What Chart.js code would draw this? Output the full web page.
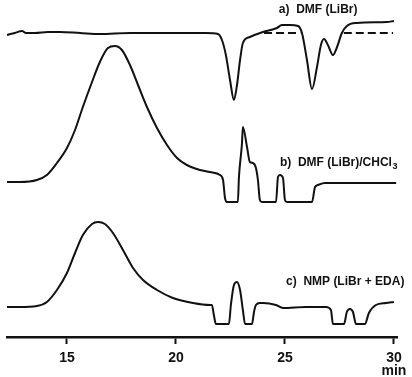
<!DOCTYPE html>
<html>
<head>
<meta charset="utf-8">
<script src="https://cdn.jsdelivr.net/npm/chart.js@4.4.1/dist/chart.umd.min.js"></script>
<style>
body{margin:0;background:#fff;}
#wrap{width:412px;height:377px;position:relative;}
</style>
</head>
<body>
<div id="wrap"><canvas id="ctx"></canvas></div>
<script>
// elution time (min) and detector response (arb. units)
const timeA = [12.25,12.61,12.94,13.12,13.53,14.13,14.68,15.60,16.51,17.89,19.72,21.38,21.93,22.11,22.29,22.48,22.66,22.80,22.94,23.07,23.39,23.99,24.63,24.86,25.23,25.60,25.78,26.01,26.24,26.47,26.65,26.79,26.97,27.20,27.39,27.61,27.84,28.30,29.68,30.00];
const signalA = [302,304,306,304,304,305,305,304,303,304,304,304,303,297,282,257,237,252,277,294,300,305,309,312,312,311,304,277,248,270,292,298,292,282,290,304,311,314,315,316];

const timeB = [12.25,12.84,13.62,14.08,14.54,15.00,15.37,15.73,16.15,16.51,16.88,17.20,17.52,17.89,18.26,18.67,19.13,19.59,20.05,20.50,21.10,21.56,22.02,22.16,22.25,22.34,22.84,22.89,23.03,23.07,23.26,23.39,23.53,23.67,23.76,23.85,23.94,24.59,24.68,24.77,24.91,25.00,25.09,26.24,26.38,26.51,26.83,30.10];
const signalB = [155,155,157,162,174,189,207,230,255,275,289,291,287,272,252,230,209,192,179,172,167,165,162,157,139,135,135,160,194,210,190,175,174,169,157,137,135,135,160,162,159,137,135,135,150,152,154,154];

const timeC = [12.25,12.84,13.62,14.08,14.54,15.00,15.37,15.73,16.15,16.42,16.74,17.11,17.57,18.03,18.49,19.13,19.86,20.78,21.56,21.65,21.74,21.83,22.43,22.52,22.66,22.80,22.94,23.07,23.17,23.49,23.58,23.67,23.85,23.99,24.59,24.91,25.96,26.88,27.11,27.20,27.71,27.84,27.98,28.12,28.26,28.67,28.85,29.17,29.63,30.00];
const signalC = [30,30,31,35,47,64,84,102,113,115,113,104,87,69,57,47,39,34,32,32,22,13,13,32,52,55,47,27,13,13,25,32,34,34,32,29,30,30,27,13,13,25,28,25,13,13,24,32,34,35];

// dashed baselines under trace a
const dashTime1 = [24.04,25.70];
const dashTime2 = [27.70,29.96];
const dashLevel = [304,304];

const tickValues = [15,20,25,30];
const traceLabels = ['a)  DMF (LiBr)','b)  DMF (LiBr)/CHCl','c)  NMP (LiBr + EDA)'];

function pts(ts, vs){
    return ts.map((t,i)=>({x:t,y:vs[i]}));
}

const ink = '#111';

function trace(ts, vs, dash){
    return {
        data: pts(ts, vs),
        borderColor: ink,
        borderWidth: 2,
        borderDash: dash || [],
        pointRadius: 0,
        fill: false,
        cubicInterpolationMode: 'monotone'
    };
}

const labelPlugin = {
    id: 'traceLabels',
    afterDatasetsDraw(chart){
        const c = chart.ctx, xs = chart.scales.x, ys = chart.scales.y;
        const spots = [[24.72,327],[24.77,174],[25.05,55]];
        c.save();
        c.fillStyle = ink;
        c.textBaseline = 'middle';
        c.font = 'bold 12px "Liberation Sans", Arial, sans-serif';
        traceLabels.forEach((txt,i)=>{
            let px = xs.getPixelForValue(spots[i][0]);
            let py = ys.getPixelForValue(spots[i][1]);
            c.fillText(txt, px, py);
            if (i === 1) {
                let w = c.measureText(txt).width;
                c.font = 'bold 9px "Liberation Sans", Arial, sans-serif';
                c.fillText('3', px + w + 0.5, py + 4);
                c.font = 'bold 12px "Liberation Sans", Arial, sans-serif';
            }
        });
        c.restore();
    }
};

new Chart(document.getElementById('ctx'), {
    type: 'line',
    data: {
        datasets: [
            trace(timeA, signalA),
            trace(dashTime1, dashLevel, [8,4]),
            trace(dashTime2, dashLevel, [8,4]),
            trace(timeB, signalB),
            trace(timeC, signalC)
        ]
    },
    options: {
        responsive: true,
        maintainAspectRatio: false,
        animation: false,
        layout: {padding: {left: 7, right: 15, top: 0, bottom: 0}},
        plugins: {legend: {display: false}, tooltip: {enabled: false}},
        scales: {
            x: {
                type: 'linear',
                min: 12.25,
                max: 30.14,
                afterBuildTicks(scale){
                    scale.ticks = tickValues.map(v=>({value:v}));
                },
                afterFit(scale){
                    scale.height = 40;
                    scale.paddingLeft = 0;
                    scale.paddingRight = 0;
                },
                border: {display: true, color: ink, width: 2.5},
                grid: {drawOnChartArea: false, drawTicks: true, tickLength: 7, tickWidth: 2, tickColor: ink},
                ticks: {
                    color: ink,
                    padding: 8,
                    maxRotation: 0,
                    font: {family: '"Liberation Sans", Arial, sans-serif', size: 14, weight: 'bold', lineHeight: 0.9},
                    callback: v => v === 30 ? ['30','min'] : String(v)
                }
            },
            y: {
                display: false,
                min: 0,
                max: 337
            }
        }
    },
    plugins: [labelPlugin]
});
</script>
</body>
</html>
